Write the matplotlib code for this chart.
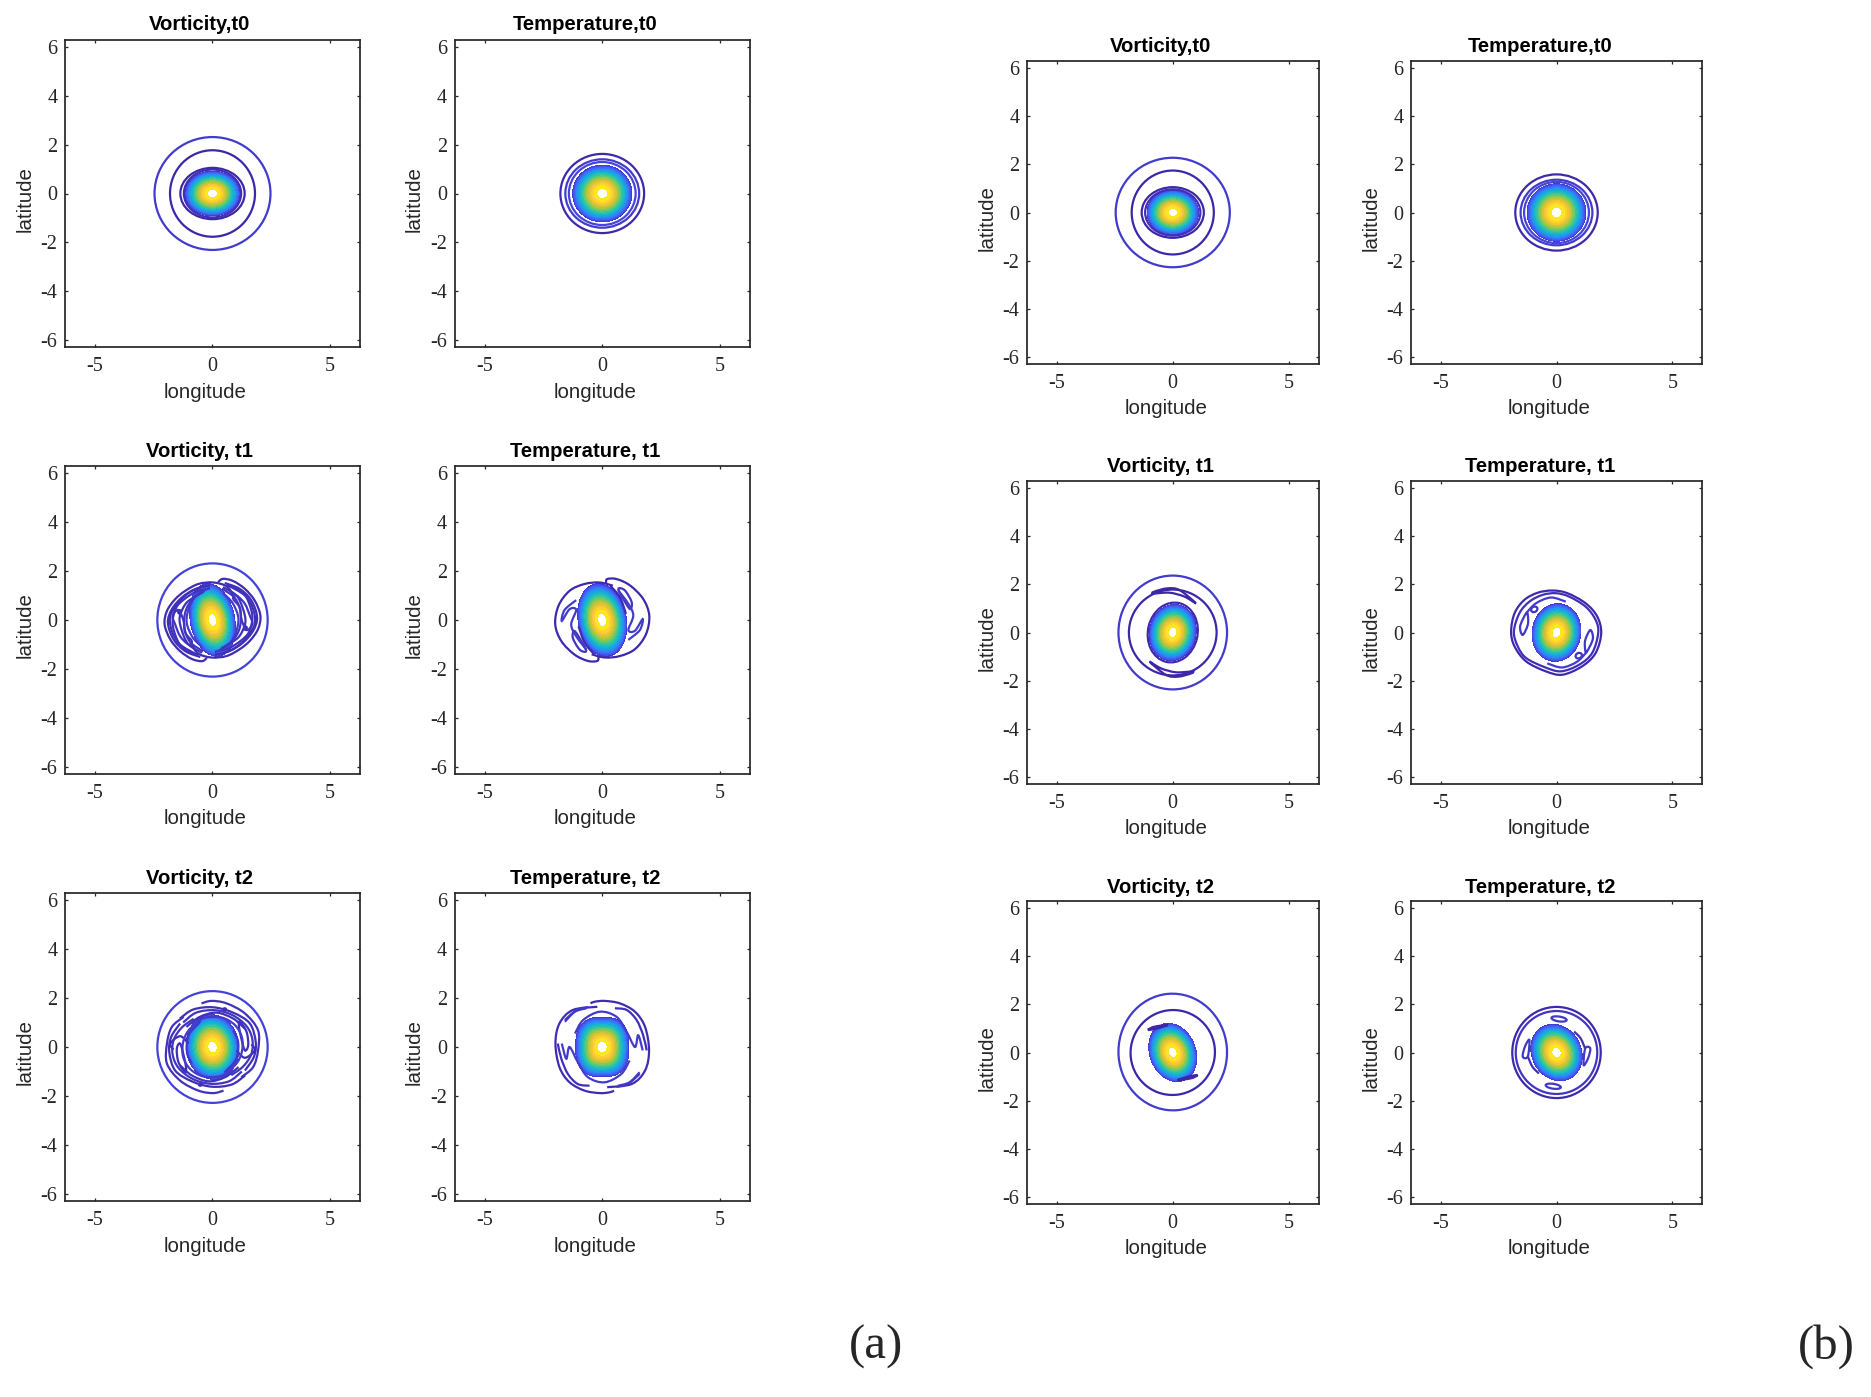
import numpy as np
import matplotlib
matplotlib.use("Agg")
import matplotlib.pyplot as plt
from matplotlib.colors import LinearSegmentedColormap, Normalize
from matplotlib.patches import Ellipse, PathPatch
from matplotlib.path import Path

plt.rcParams['axes.unicode_minus'] = False
SANS = 'Liberation Sans'
SERIF = 'Liberation Serif'

W, H = 1871, 1397
XTICKS = [-5, 0, 5]
YTICKS = [-6, -4, -2, 0, 2, 4, 6]
LIM = 2 * np.pi

TITLES_L = ["Vorticity,t0", "Temperature,t0", "Vorticity, t1", "Temperature, t1", "Vorticity, t2", "Temperature, t2"]
TITLES_R = ["Vorticity,t0", "Temperature,t0", "Vorticity, t1", "Temperature, t1", "Vorticity, t2", "Temperature, t2"]

# Closed contour rings: centre x, centre y, semi-axis x, semi-axis y, tilt deg, level
RINGS_V0_A = [(0, 0, 2.47, 2.31, 0, .07), (0, 0, 1.81, 1.77, 0, 0), (0, 0, 1.37, 1.05, 0, 0), (0, 0, 1.22, .98, 0, .03)]
RINGS_T0_A = [(0, 0, 1.78, 1.62, 0, .01), (0, 0, 1.57, 1.40, 0, .07), (0, 0, 1.42, 1.29, 0, .1)]
RINGS_V1_A = [(0, 0, 2.35, 2.31, 0, .09), (1.40, -.33, .06, .07, 0, 0), (-1.40, .33, .06, .07, 0, 0)]
RINGS_T1_A = []
RINGS_V2_A = [(0, 0, 2.35, 2.28, 0, .09), (.52, 1.53, .06, .05, 0, .03), (-.52, -1.53, .06, .05, 0, .03)]
RINGS_T2_A = []
RINGS_V0_B = [(0, 0, 2.46, 2.27, 0, .07), (0, 0, 1.77, 1.74, 0, 0), (0, 0, 1.34, 1.05, 0, 0), (0, 0, 1.19, .96, 0, .03)]
RINGS_T0_B = [(0, 0, 1.78, 1.58, 0, .01), (0, 0, 1.55, 1.36, 0, .07), (0, 0, 1.40, 1.27, 0, .1)]
RINGS_V1_B = [(0, 0, 2.34, 2.36, 0, .07), (0, 0, 1.89, 1.78, 0, .0), (0, 0, 1.07, 1.25, -14, .01)]
RINGS_T1_B = [(-.96, .96, .14, .11, 25, .05), (.96, -.96, .14, .11, 25, .05)]
RINGS_V2_B = [(0, .02, 2.34, 2.42, 5, .07), (0, 0, 1.82, 1.76, 8, .0)]
RINGS_T2_B = [(0, 0, 1.91, 1.89, 0, .01), (0, 0, 1.76, 1.72, 0, .05), (.11, 1.39, .33, .10, -8, .06), (-.14, -1.40, .33, .10, -8, .06)]

# Core of each panel: semi-axis x, semi-axis y, tilt deg, squareness exponent
CORE_V0_A = (1.17, .91, 0, 2)
CORE_T0_A = (1.26, 1.16, 0, 2)
CORE_V1_A = (.94, 1.50, 12, 2)
CORE_T1_A = (1.02, 1.50, 12, 2)
CORE_V2_A = (1.12, 1.32, 8, 2)
CORE_T2_A = (1.13, 1.22, 0, 2.6)
CORE_V0_B = (1.11, .92, 0, 2)
CORE_T0_B = (1.27, 1.19, 0, 2)
CORE_V1_B = (1.0, 1.17, -14, 2)
CORE_T1_B = (1.05, 1.20, -12, 2)
CORE_V2_B = (.98, 1.25, 25, 2)
CORE_T2_B = (1.05, 1.22, 35, 2)

# Filament contours: points; each drawn with its point reflection
# when the group is in a *_SYM list, and as it stands in a *_ONE list. (x points, y points, closed, level)
FIL_V1_A_X = [
    [.24, .45, .88, 1.38, 1.80, 2.04, 1.94, 1.59, 1.16, .60, -.04, -.61, -.89],
    [.52, 1.16, 1.66, 1.90, 1.73, 1.30, .74, .10],
    [.45, 1.02, 1.30, 1.40, 1.16, .81, .38],
    [.67, 1.38, 1.73, 1.80, 1.45, 1.02, .45],
    [.88, 1.16, 1.23, 1.45, 1.70, 1.59, 1.38, 1.02],
    [.60, 1.27, 1.55, 1.70, 1.55, 1.2, .7, .1],
    [.45, .85, 1.1, 1.0, .7, .2],
    [.4, .95, 1.2, 1.15, .85, .35],
]
FIL_V1_A_Y = [
    [1.55, 1.68, 1.59, 1.27, .79, .18, -.37, -.85, -1.19, -1.47, -1.53, -1.37, -.99],
    [1.51, 1.27, .79, .11, -.44, -.92, -1.26, -1.42],
    [1.34, 1.0, .45, -.10, -.64, -.92, -1.15],
    [1.41, 1.0, .45, -.16, -.71, -1.10, -1.37],
    [.86, .52, .04, -.41, -.16, .18, .66, 1.0],
    [1.45, 1.14, .70, .1, -.5, -.85, -1.15, -1.3],
    [1.1, .7, .1, -.5, -1.0, -1.28],
    [1.28, .9, .3, -.35, -.85, -1.2],
]
FIL_V1_A_CLOSED = [0, 0, 0, 0, 1, 0, 0, 0]
FIL_V1_A_LEV = [.02, .03, .04, .03, .05, .04, .07, .05]

FIL_T1_A_X = [
    [.16, .21, .61, 1.18, 1.74, 2.0, 1.86, 1.39, .75, .11, -.45],
    [.68, .96, 1.25, 1.18, .89],
    [.68, 1.11, 1.32, 1.11, 1.39, 1.72, 1.60, 1.11],
    [.33, .75, 1.01],
]
FIL_T1_A_Y = [
    [1.51, 1.67, 1.67, 1.41, .86, .18, -.58, -1.19, -1.47, -1.53, -1.40],
    [1.27, 1.21, .73, .45, .86],
    [1.21, .66, .18, -.41, -.44, .04, -.41, -.81],
    [1.41, .93, .25],
]
FIL_T1_A_CLOSED = [0, 1, 0, 0]
FIL_T1_A_LEV = [.01, .05, .07, .02]

FIL_V2_A_X = [
    [-.47, -.04, .60, 1.38, 1.94, 1.94, 1.73, 1.23],
    [-1.39, -.82, .03, .88, 1.59, 1.84, 1.76, 1.38],
    [-1.11, -.54, .17, .88, 1.38],
    [1.16, 1.45, 1.52, 1.38, 1.23, 1.13],
    [1.02, 1.38, 1.80, 1.66],
    [.88, 1.09, 1.02, .52],
    [-1.25, -.7, .1, .85, 1.45, 1.7, 1.65, 1.3, .8],
    [-.9, -.3, .4, .95, 1.25, 1.25, 1.0, .5],
]
FIL_V2_A_Y = [
    [1.78, 1.88, 1.78, 1.37, .68, -.14, -.82, -1.23],
    [1.16, 1.53, 1.62, 1.40, .96, .21, -.41, -.96],
    [.82, 1.23, 1.40, 1.16, .75],
    [1.03, .62, .07, -.14, .34, .82],
    [-.14, -.44, -.14, .11],
    [.68, .21, -.48, -1.03],
    [1.0, 1.4, 1.5, 1.3, .85, .3, -.3, -.8, -1.15],
    [.95, 1.2, 1.2, .9, .4, -.2, -.7, -1.1],
]
FIL_V2_A_CLOSED = [0, 0, 0, 1, 0, 0, 0, 0]
FIL_V2_A_LEV = [.04, .03, .04, .03, .02, .06, .05, .07]

FIL_T2_A_X = [
    [-.50, -.31, .11, .75, 1.39, 1.82, 1.99, 1.82, 1.25, .21],
    [.54, 1.04, 1.46, 1.74, 1.89],
    [-1.59, -1.16, -.67],
    [-1.59, -1.10, -.60],
    [-1.16, -.81, -.10, .61, 1.04, 1.39, 1.53, 1.72],
]
FIL_T2_A_Y = [
    [1.78, 1.85, 1.88, 1.78, 1.44, .82, -.14, -.96, -1.51, -1.64],
    [1.58, 1.51, 1.10, .48, -.14],
    [1.03, 1.44, 1.58],
    [1.10, 1.50, 1.63],
    [.55, 1.10, 1.44, 1.23, .62, 0, .48, -.14],
]
FIL_T2_A_CLOSED = [0, 0, 0, 0, 0]
FIL_T2_A_LEV = [.02, .03, .06, .06, .07]

FIL_V1_B_X = [[-.81, -.24, .29, 1.0, .50, -.14, -.81]]
FIL_V1_B_Y = [[1.69, 1.83, 1.76, 1.21, 1.49, 1.65, 1.62]]
FIL_V1_B_CLOSED = [1]
FIL_V1_B_LEV = [0]

FIL_T1_B_X = [[-1.31, -1.57, -1.46, -1.24, -1.24], [-1.31, -.89, -.24, .40]]
FIL_T1_B_Y = [[.80, .26, -.10, .32, .73], [.80, 1.21, 1.45, 1.28]]
FIL_T1_B_CLOSED = [1, 0]
FIL_T1_B_LEV = [.06, .07]

ONE_T1_B_X = [
    [-1.96, -1.81, -1.39, -.81, -.17, .47, 1.26, 1.76, 1.93, 1.69, 1.11, .26, -.46, -1.31, -1.81],
    [-1.84, -1.60, -1.17, -.60, -.03, .54, 1.26, 1.69, 1.80, 1.54, .97, .19, -.53, -1.31, -1.67],
]
ONE_T1_B_Y = [
    [.04, .80, 1.35, 1.65, 1.74, 1.63, 1.21, .66, -.03, -.85, -1.40, -1.75, -1.61, -1.20, -.58],
    [.04, .80, 1.28, 1.56, 1.63, 1.49, 1.07, .52, -.03, -.85, -1.34, -1.61, -1.43, -1.06, -.58],
]
ONE_T1_B_LEV = [.01, .03]

FIL_V2_B_X = [[-1.07, -.79, -.21, -.75]]
FIL_V2_B_Y = [[.94, 1.07, 1.14, .98]]
FIL_V2_B_CLOSED = [1]
FIL_V2_B_LEV = [0]

FIL_T2_B_X = [[-1.46, -1.36, -1.17, -1.24], [.76, 1.04, 1.23]]
FIL_T2_B_Y = [[-.17, .25, .52, -.17], [.87, .59, .18]]
FIL_T2_B_CLOSED = [1, 0]
FIL_T2_B_LEV = [.06, .03]

PARULA = LinearSegmentedColormap.from_list("parula", [
    (0.2422, 0.1504, 0.6603), (0.2810, 0.3228, 0.9578), (0.1786, 0.5289, 0.9682),
    (0.0689, 0.6948, 0.8394), (0.2161, 0.7843, 0.5923), (0.6720, 0.7793, 0.2227),
    (0.9970, 0.7659, 0.2199), (0.9769, 0.9839, 0.0805)])
RING_NORM = Normalize(0, 1)
CORE_NORM = Normalize(-.05, .97)
CORE_LEVELS = np.linspace(0, .945, 18)
GRID = np.linspace(-3, 3, 601)
LINE = 1.6
INK = '#262626'


def axes_px(x0, x1, y0, y1):
    return fig.add_axes([x0 / W, 1 - y1 / H, (x1 - x0) / W, (y1 - y0) / H])


def smooth_path(xs, ys, closed):
    """Path through the read points, as cubic Bezier segments that matplotlib draws."""
    p = np.column_stack([xs, ys])
    n = len(p)
    verts, codes = [p[0]], [Path.MOVETO]
    segs = n if closed else n - 1
    for i in range(segs):
        if closed:
            a, b, c, d = p[(i - 1) % n], p[i], p[(i + 1) % n], p[(i + 2) % n]
        else:
            a, b, c, d = p[max(i - 1, 0)], p[i], p[i + 1], p[min(i + 2, n - 1)]
        verts += [b + (c - a) / 6, c - (d - b) / 6, c]
        codes += [Path.CURVE4] * 3
    return Path(verts, codes)


def draw_curve(ax, xs, ys, closed, lev, reflect):
    col = PARULA(RING_NORM(lev))
    ax.add_patch(PathPatch(smooth_path(xs, ys, closed), fill=False, ec=col, lw=LINE, zorder=3))
    if reflect:
        ax.add_patch(PathPatch(smooth_path([-v for v in xs], [-v for v in ys], closed),
                               fill=False, ec=col, lw=LINE, zorder=3))


def panel(box, title, rings, core, fil=None, one=None, title_dy=15, label_dy=-45):
    ax = axes_px(*box)
    ax.set_xlim(-LIM, LIM)
    ax.set_ylim(-LIM, LIM)
    ax.set_xticks(XTICKS)
    ax.set_yticks(YTICKS)
    ax.tick_params(direction='in', top=True, right=True, length=2.4, width=.9, color=INK,
                   labelsize=14.5, labelcolor=INK)
    ax.tick_params(axis='x', pad=7)
    ax.tick_params(axis='y', pad=5.5)
    for t in ax.get_xticklabels() + ax.get_yticklabels():
        t.set_fontfamily(SERIF)
    for s in ax.spines.values():
        s.set_linewidth(1.25)
        s.set_color(INK)

    a, b, tilt, p = core
    X, Y = np.meshgrid(GRID, GRID)
    th = np.deg2rad(tilt)
    u = X * np.cos(th) + Y * np.sin(th)
    v = -X * np.sin(th) + Y * np.cos(th)
    rho = (np.abs(u / a) ** p + np.abs(v / b) ** p) ** (1 / p)
    ax.contourf(X, Y, 1 - rho ** 1.7, levels=CORE_LEVELS, cmap=PARULA, norm=CORE_NORM, zorder=2)

    for cx, cy, ra, rb, ang, lev in rings:
        ax.add_patch(Ellipse((cx, cy), 2 * ra, 2 * rb, angle=ang, fill=False,
                             ec=PARULA(RING_NORM(lev)), lw=LINE, zorder=3))
    if fil:
        for xs, ys, cl, lev in zip(*fil):
            draw_curve(ax, xs, ys, cl, lev, True)
    if one:
        for xs, ys, lev in zip(*one):
            draw_curve(ax, xs, ys, True, lev, False)

    tx = .457 if title.startswith('V') else .443
    ax.annotate(title, (tx, 1), xycoords='axes fraction', xytext=(0, title_dy), textcoords='offset pixels',
                ha='center', va='center', family=SANS, weight='bold', fontsize=14.6, color='black')
    ax.annotate('longitude', (.476, 0), xycoords='axes fraction', xytext=(0, label_dy), textcoords='offset pixels',
                ha='center', va='center', family=SANS, fontsize=14.8, color=INK)
    ax.annotate('latitude', (0, .483), xycoords='axes fraction', xytext=(-40, 0), textcoords='offset pixels',
                ha='center', va='center', rotation=90, family=SANS, fontsize=14.8, color=INK)
    return ax


fig = plt.figure(figsize=(W / 100, H / 100), dpi=100, facecolor='white')

XA = [(65, 360), (454.5, 750)]
YA = [(40, 347), (466, 774), (893, 1201)]
XB = [(1027, 1318.5), (1411, 1702)]
YB = [(61, 364), (481, 784), (901, 1204)]

A = [
    (RINGS_V0_A, CORE_V0_A, None, None),
    (RINGS_T0_A, CORE_T0_A, None, None),
    (RINGS_V1_A, CORE_V1_A, (FIL_V1_A_X, FIL_V1_A_Y, FIL_V1_A_CLOSED, FIL_V1_A_LEV), None),
    (RINGS_T1_A, CORE_T1_A, (FIL_T1_A_X, FIL_T1_A_Y, FIL_T1_A_CLOSED, FIL_T1_A_LEV), None),
    (RINGS_V2_A, CORE_V2_A, (FIL_V2_A_X, FIL_V2_A_Y, FIL_V2_A_CLOSED, FIL_V2_A_LEV), None),
    (RINGS_T2_A, CORE_T2_A, (FIL_T2_A_X, FIL_T2_A_Y, FIL_T2_A_CLOSED, FIL_T2_A_LEV), None),
]
B = [
    (RINGS_V0_B, CORE_V0_B, None, None),
    (RINGS_T0_B, CORE_T0_B, None, None),
    (RINGS_V1_B, CORE_V1_B, (FIL_V1_B_X, FIL_V1_B_Y, FIL_V1_B_CLOSED, FIL_V1_B_LEV), None),
    (RINGS_T1_B, CORE_T1_B, (FIL_T1_B_X, FIL_T1_B_Y, FIL_T1_B_CLOSED, FIL_T1_B_LEV), (ONE_T1_B_X, ONE_T1_B_Y, ONE_T1_B_LEV)),
    (RINGS_V2_B, CORE_V2_B, (FIL_V2_B_X, FIL_V2_B_Y, FIL_V2_B_CLOSED, FIL_V2_B_LEV), None),
    (RINGS_T2_B, CORE_T2_B, (FIL_T2_B_X, FIL_T2_B_Y, FIL_T2_B_CLOSED, FIL_T2_B_LEV), None),
]

for i, (spec, title) in enumerate(zip(A, TITLES_L)):
    panel(XA[i % 2] + YA[i // 2], title, *spec, title_dy=15, label_dy=-45)
for i, (spec, title) in enumerate(zip(B, TITLES_R)):
    panel(XB[i % 2] + YB[i // 2], title, *spec, title_dy=14, label_dy=-44)

fig.text(876 / W, 1 - 1347 / H, '(a)', family=SERIF, fontsize=35, ha='center', va='center', color=INK)
fig.text(1826 / W, 1 - 1347 / H, '(b)', family=SERIF, fontsize=35, ha='center', va='center', color=INK)

fig.savefig('out.png', dpi=100)
